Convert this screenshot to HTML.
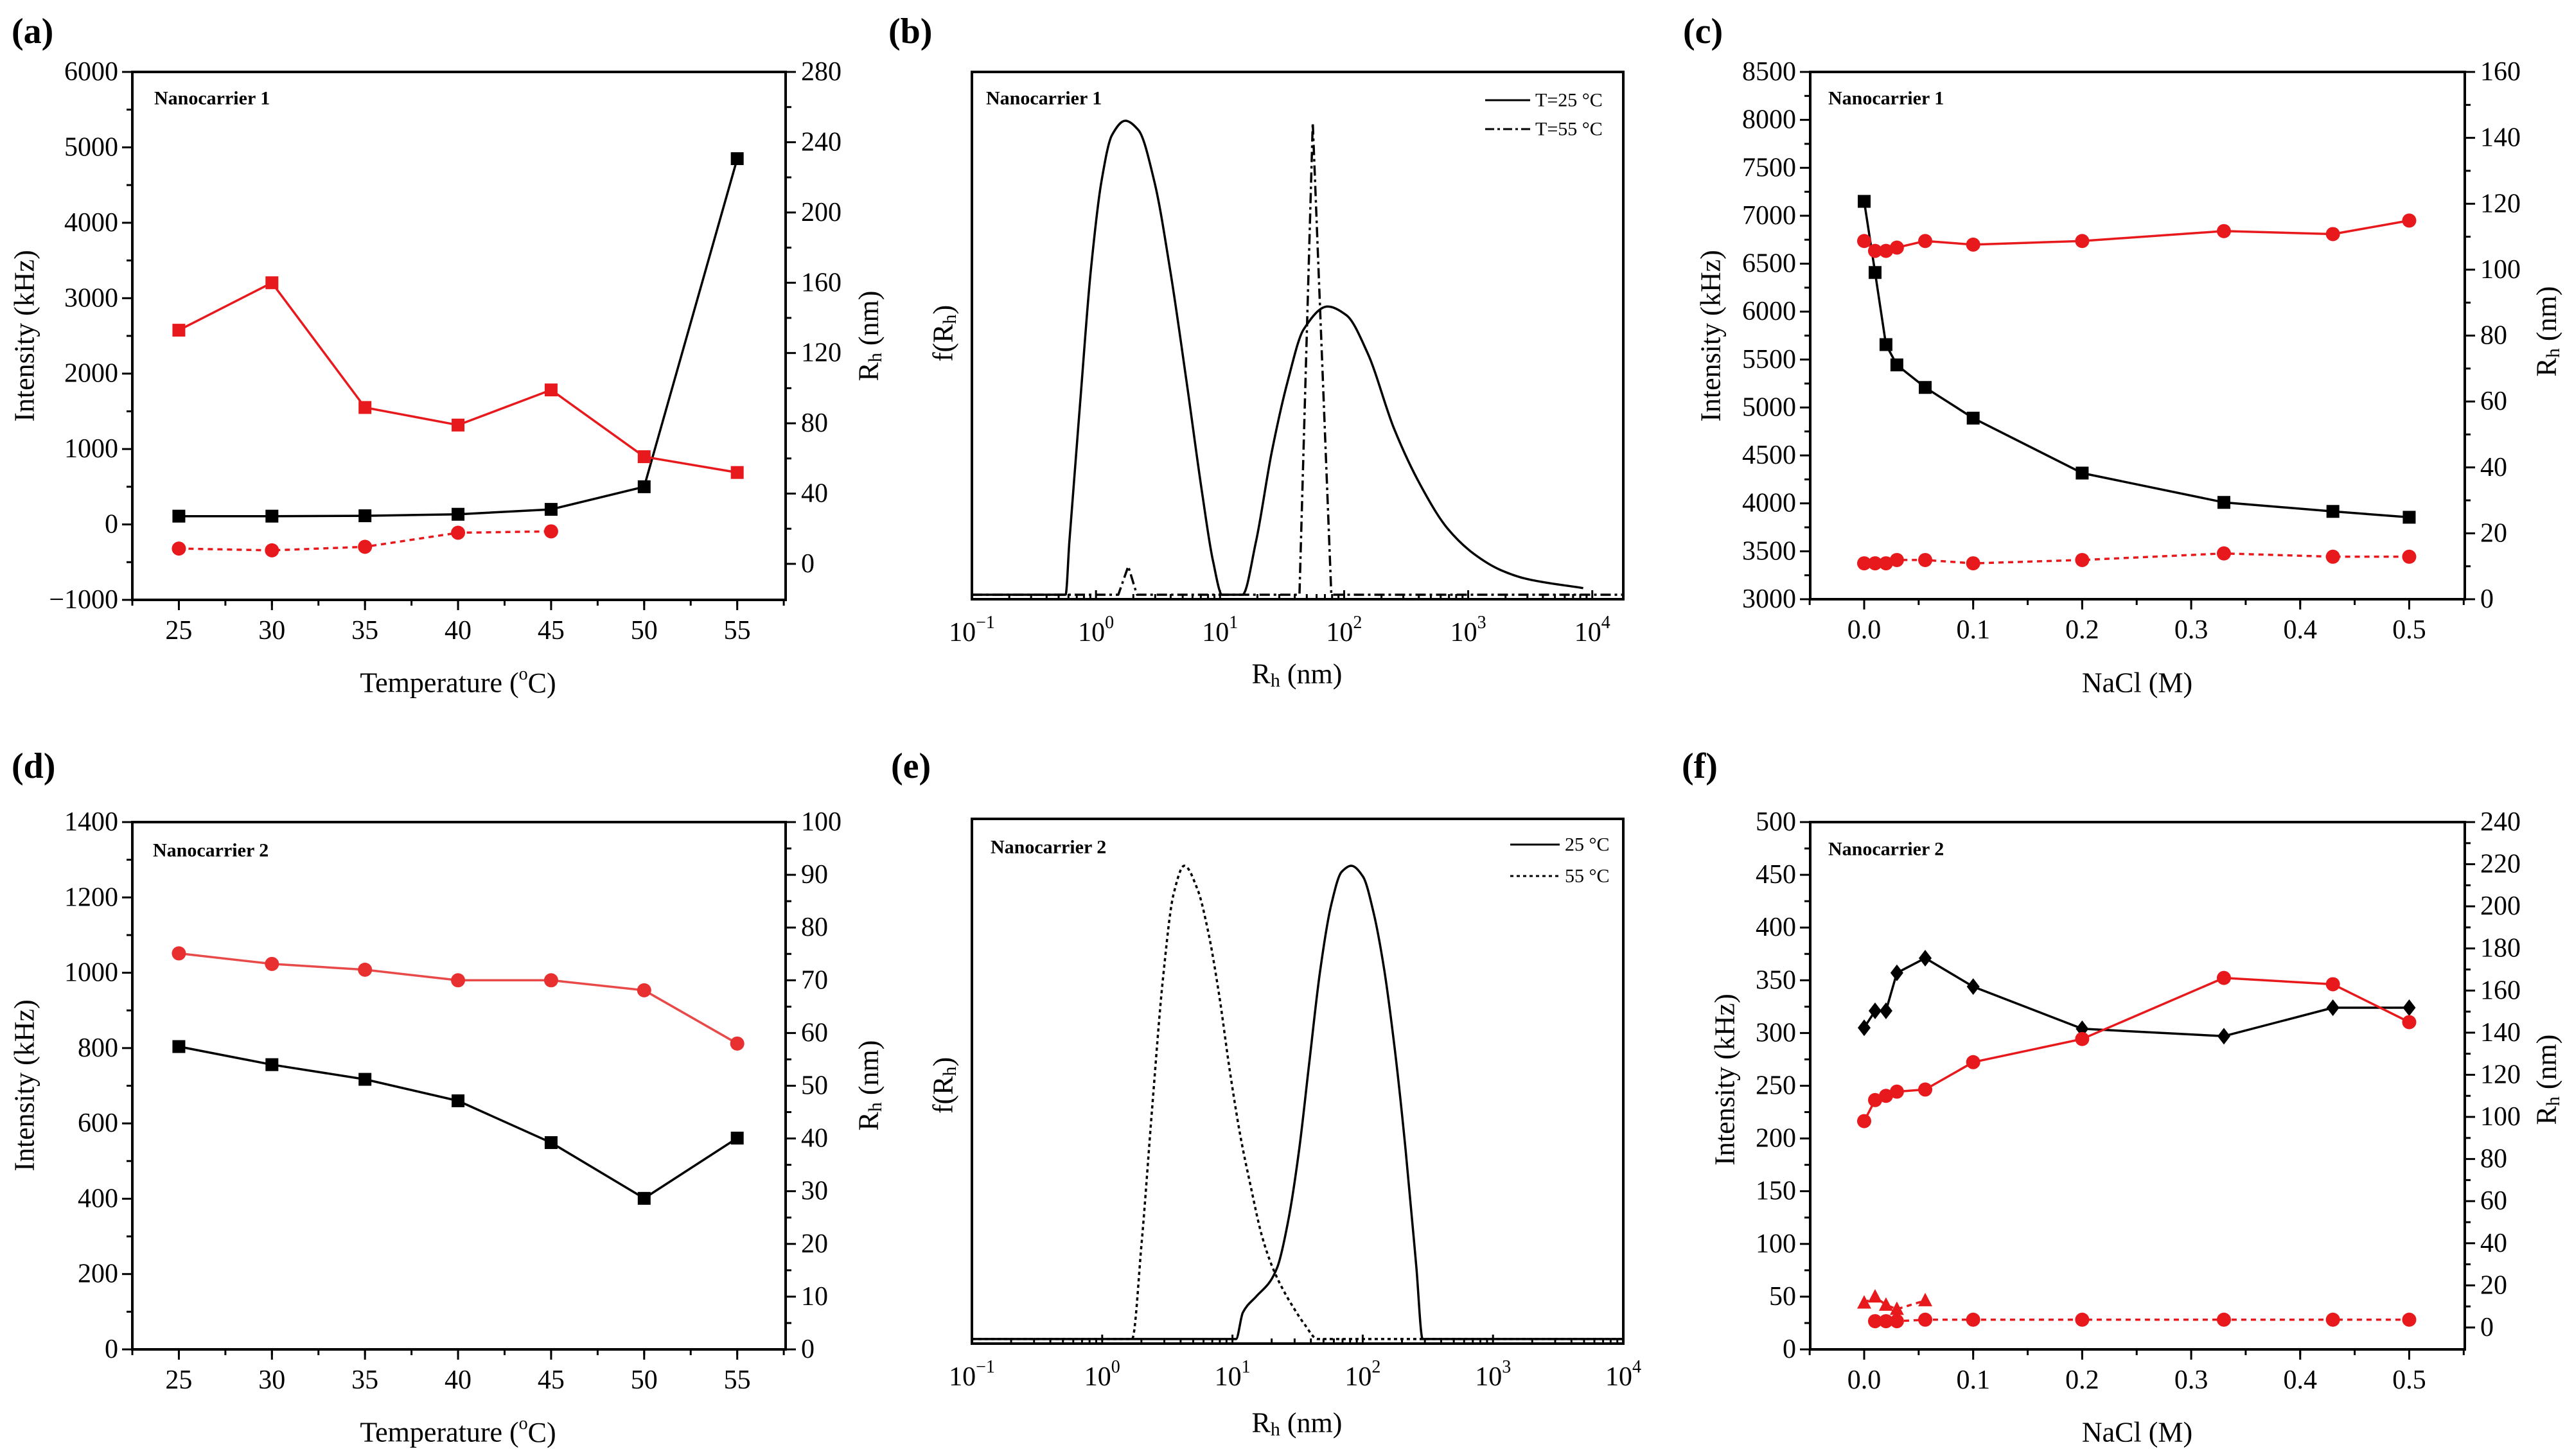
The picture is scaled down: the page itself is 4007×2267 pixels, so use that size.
<!DOCTYPE html>
<html><head><meta charset="utf-8"><style>
html,body{margin:0;padding:0;background:#fff}
svg{display:block}
svg text, svg tspan{font-family:"Liberation Serif","Times New Roman",serif}
</style></head><body>
<svg id="fig" width="4007" height="2267" viewBox="0 0 4007 2267" xmlns="http://www.w3.org/2000/svg" font-family="Liberation Serif, serif"></svg>
<script>
// ---------- DATA ----------
const tempX = [25,30,35,40,45,50,55];
const aIntensity = [110,110,115,135,200,500,4850];
const aRhLarge = [133,160,89,79,99,61,52];
const aRhSmallX = [25,30,35,40,45];
const aRhSmall = [8.7,7.7,9.7,17.7,18.5];

const bT25LogR = [-1,-0.245,-0.215,-0.129,-0.043,0.043,0.129,0.236,0.343,0.472,0.601,0.730,0.858,0.944,1.017,1.180,1.288,1.416,1.545,1.674,1.867,2.017,2.189,2.403,2.618,2.833,3.047,3.262,3.476,3.927];
const bT25F = [0,0,0.11,0.40,0.68,0.87,0.97,1.0,0.98,0.87,0.68,0.45,0.21,0.07,0,0,0.11,0.30,0.45,0.56,0.608,0.59,0.51,0.35,0.23,0.14,0.086,0.052,0.033,0.014];
const bT55LogR = [-1,0.18,0.26,0.33,1.64,1.747,1.897,4.25];
const bT55F = [0,0,0.06,0,0,0.996,0,0];

const saltX = [0,0.01,0.02,0.03,0.056,0.1,0.2,0.33,0.43,0.5];
const cIntensity = [7150,6408,5656,5444,5209,4889,4316,4010,3916,3855];
const cRhLarge = [108.7,105.7,105.7,106.7,108.7,107.6,108.7,111.7,110.8,114.9];
const cRhSmall = [10.9,10.9,10.9,11.9,11.9,10.9,11.9,13.9,12.9,12.9];

const dIntensity = [804,756,717,660,549,401,561];
const dRh = [75.1,73.1,72.0,70.0,70.0,68.1,58.0];

const e25LogR = [-1,1.027,1.080,1.183,1.285,1.346,1.428,1.510,1.592,1.674,1.756,1.838,1.912,2.002,2.084,2.165,2.247,2.329,2.411,2.460,4];
const e25F = [0,0,0.056,0.09,0.12,0.153,0.25,0.396,0.59,0.78,0.915,0.987,1,0.977,0.90,0.78,0.61,0.40,0.153,0,0];
const e55LogR = [-1,0.229,0.302,0.384,0.466,0.548,0.630,0.732,0.814,0.896,0.978,1.060,1.142,1.224,1.305,1.387,1.469,1.551,1.654,4];
const e55F = [0,0,0.20,0.49,0.76,0.94,1,0.95,0.86,0.73,0.57,0.43,0.32,0.22,0.153,0.105,0.066,0.032,0,0];

const fIntensity = [305,321,321,357,371,344,304,297,324,324];
const fRhLarge = [98,108,110,112,113,126,137,166,163,145];
const fTriX = [0,0.01,0.02,0.03,0.056];
const fRhTri = [11.7,14.6,10.7,8.7,12.8];
const fDotX = [0.01,0.02,0.03,0.056,0.1,0.2,0.33,0.43,0.5];
const fRhDot = [3.0,3.0,3.0,3.7,3.7,3.7,3.7,3.7,3.7];

const tempTicks = [25,30,35,40,45,50,55];
const saltTicks = [0,0.1,0.2,0.3,0.4,0.5];
const saltTickLabels = ['0.0','0.1','0.2','0.3','0.4','0.5'];
const logTicks = [-1,0,1,2,3,4];
const logTickExp = ['−1','0','1','2','3','4'];

// ---------- HELPERS ----------
const NS='http://www.w3.org/2000/svg';
const svg=document.getElementById('fig');
const RED='#e8191c';
const FONT='"Liberation Serif", serif';
function el(tag,attrs,parent){const e=document.createElementNS(NS,tag);for(const k in attrs)e.setAttribute(k,attrs[k]);(parent||svg).appendChild(e);return e;}
function lin(d0,d1,r0,r1){return v=>r0+(v-d0)/(d1-d0)*(r1-r0);}
function range(a,b,s){const r=[];for(let v=a;v<=b+1e-9;v+=s)r.push(+v.toFixed(6));return r;}

function text(g,x,y,str,opts){
  const t=el('text',{x:x,y:y,'font-size':opts.size||42,'font-family':FONT,'text-anchor':opts.anchor||'middle','dominant-baseline':'central',fill:'#000'},g);
  if(opts.bold)t.setAttribute('font-weight','bold');
  if(opts.rot)t.setAttribute('transform','rotate(-90 '+x+' '+y+')');
  t.textContent=str;
  return t;
}
function rhTitle(g,x,y,rot,name){
  const t=el('text',{x:x,y:y,'font-size':44,'font-family':FONT,'text-anchor':'middle','dominant-baseline':'central'},g);
  if(rot)t.setAttribute('transform','rotate(-90 '+x+' '+y+')');
  
  
  t.appendChild(document.createTextNode('R'));
  const s=el('tspan',{'font-size':30,dy:10},t);s.textContent='h';
  const r=el('tspan',{dy:-10},t);r.textContent=' (nm)';
  return t;
}
function fTitle(g,x,y){
  const t=el('text',{x:x,y:y,'font-size':44,'font-family':FONT,'text-anchor':'middle','dominant-baseline':'central',transform:'rotate(-90 '+x+' '+y+')'},g);
  
  
  t.appendChild(document.createTextNode('f(R'));
  const s=el('tspan',{'font-size':30,dy:10},t);s.textContent='h';
  const r=el('tspan',{dy:-10},t);r.textContent=')';
}
function tempTitle(g,x,y){
  const t=el('text',{x:x,y:y,'font-size':44,'font-family':FONT,'text-anchor':'middle','dominant-baseline':'central'},g);
  
  
  t.appendChild(document.createTextNode('Temperature ('));
  const s=el('tspan',{'font-size':28,dy:-14},t);s.textContent='o';
  const r=el('tspan',{dy:14},t);r.textContent='C)';
}

function frame(g,p){
  const r=el('rect',{x:p.L,y:p.T,width:p.R-p.L,height:p.B-p.T,fill:'none',stroke:'#000','stroke-width':4},g);
  
  
}
function ticksLeft(g,p,ys,major,minor,lo,hi){
  for(const v of range(lo,hi,minor)){
    const isMaj=Math.abs(v/major-Math.round(v/major))<1e-6;
    const y=ys(v);
    el('line',{x1:p.L,x2:p.L-(isMaj?16:9),y1:y,y2:y,stroke:'#000','stroke-width':3},g);
    if(isMaj){const t=text(g,p.L-22,y,String(v).replace('-','−'),{anchor:'end'});
      
      }
  }
}
function ticksRight(g,p,ys,major,minor,lo,hi){
  for(const v of range(lo,hi,minor)){
    const isMaj=Math.abs(v/major-Math.round(v/major))<1e-6;
    const y=ys(v);
    el('line',{x1:p.R,x2:p.R+(isMaj?16:9),y1:y,y2:y,stroke:'#000','stroke-width':3},g);
    if(isMaj){const t=text(g,p.R+24,y,String(v),{anchor:'start'});
      
      }
  }
}
function ticksBottom(g,p,xs,ticks,labels,minorStep,lo,hi){
  for(const v of range(lo,hi,minorStep)){
    const x=xs(v);
    el('line',{x1:x,x2:x,y1:p.B,y2:p.B+9,stroke:'#000','stroke-width':3},g);
  }
  ticks.forEach((v,i)=>{
    const x=xs(v);
    el('line',{x1:x,x2:x,y1:p.B,y2:p.B+16,stroke:'#000','stroke-width':3},g);
    const t=text(g,x,p.B+48,labels[i],{});
    
    
  });
}
function logBottom(g,p,xs,hiLog){
  for(let d=-1;d<=4;d++){
    for(let m=1;m<10;m++){
      const lv=d+Math.log10(m); if(lv>hiLog)break;
      const x=xs(lv);
      el('line',{x1:x,x2:x,y1:p.B,y2:p.B-(m===1?14:8),stroke:'#000','stroke-width':3},g);
    }
  }
  logTicks.forEach((v,i)=>{
    const x=xs(v);
    const t=el('text',{x:x,y:p.B+52,'font-size':42,'font-family':FONT,'text-anchor':'middle','dominant-baseline':'central'},g);
    
    
    t.appendChild(document.createTextNode('10'));
    const s=el('tspan',{'font-size':28,dy:-16},t);s.textContent=logTickExp[i];
  });
}
function polyline(g,xs,ys,X,Y,color,dash,name){
  const pts=X.map((x,i)=>xs(x).toFixed(1)+','+ys(Y[i]).toFixed(1)).join(' ');
  const l=el('polyline',{points:pts,fill:'none',stroke:color,'stroke-width':3.5,'stroke-linejoin':'round'},g);
  if(dash)l.setAttribute('stroke-dasharray',dash);
  
  
}
// monotone cubic (Fritsch-Carlson) - no overshoot
function smooth(g,xs,ys,X,Y,color,dash,name){
  const px=X.map(xs), py=Y.map(ys), n=px.length;
  const dx=[],m=[];
  for(let i=0;i<n-1;i++){dx.push(px[i+1]-px[i]);m.push((py[i+1]-py[i])/(px[i+1]-px[i]));}
  const t=new Array(n);
  t[0]=m[0];t[n-1]=m[n-2];
  for(let i=1;i<n-1;i++){
    if(m[i-1]*m[i]<=0)t[i]=0;
    else{const w1=2*dx[i]+dx[i-1],w2=dx[i]+2*dx[i-1];t[i]=(w1+w2)/(w1/m[i-1]+w2/m[i]);}
  }
  let d='M'+px[0].toFixed(1)+','+py[0].toFixed(1);
  for(let i=0;i<n-1;i++){
    const h=dx[i]/3;
    d+=' C'+(px[i]+h).toFixed(1)+','+(py[i]+t[i]*h).toFixed(1)+' '+(px[i+1]-h).toFixed(1)+','+(py[i+1]-t[i+1]*h).toFixed(1)+' '+px[i+1].toFixed(1)+','+py[i+1].toFixed(1);
  }
  const l=el('path',{d:d,fill:'none',stroke:color,'stroke-width':3.5,'stroke-linejoin':'round'},g);
  if(dash)l.setAttribute('stroke-dasharray',dash);
  
  
}
function markers(g,xs,ys,X,Y,color,shape,name){
  X.forEach((x,i)=>{
    const cx=xs(x),cy=ys(Y[i]);let m;
    if(shape==='sq')m=el('rect',{x:cx-10,y:cy-10,width:20,height:20,fill:color},g);
    else if(shape==='ci')m=el('circle',{cx:cx,cy:cy,r:11,fill:color},g);
    else if(shape==='di')m=el('polygon',{points:`${cx},${cy-13} ${cx+10},${cy} ${cx},${cy+13} ${cx-10},${cy}`,fill:color},g);
    else m=el('polygon',{points:`${cx},${cy-12} ${cx+11},${cy+9} ${cx-11},${cy+9}`,fill:color},g);
    
    
  });
}
function group(name){const g=el('g',{});return g;}
function panelLabel(g,x,y,s){const t=text(g,x,y,s,{size:56,bold:true,anchor:'start'});}
function ncTitle(g,x,y,s){const t=text(g,x,y,s,{size:30,bold:true,anchor:'start'});}
function intensityTitle(g,x,y){const t=text(g,x,y,'Intensity (kHz)',{size:44,rot:true});}
function naclTitle(g,x,y){const t=text(g,x,y,'NaCl (M)',{size:44});}

// ---------- PANEL A ----------
(function(){
  const g=group('panel-a');
  const p={L:206,R:1223,T:112,B:934};
  const xs=lin(22.5,57.6,p.L,p.R), yl=lin(-1000,6000,p.B,p.T), yr=lin(-20.5,280,p.B,p.T);
  frame(g,p);
  ticksLeft(g,p,yl,1000,500,-1000,6000);
  ticksRight(g,p,yr,40,20,0,280);
  ticksBottom(g,p,xs,tempTicks,tempTicks.map(String),2.5,22.5,57.5);
  polyline(g,xs,yl,tempX,aIntensity,'#000',null,'intensity-line');
  markers(g,xs,yl,tempX,aIntensity,'#000','sq','intensity-point');
  polyline(g,xs,yr,tempX,aRhLarge,RED,null,'rh-large-line');
  markers(g,xs,yr,tempX,aRhLarge,RED,'sq','rh-large-point');
  polyline(g,xs,yr,aRhSmallX,aRhSmall,RED,'8 7','rh-small-line');
  markers(g,xs,yr,aRhSmallX,aRhSmall,RED,'ci','rh-small-point');
  panelLabel(g,18,49,'(a)');
  ncTitle(g,240,153,'Nanocarrier 1');
  intensityTitle(g,38,523);
  rhTitle(g,1352,523,true,'right-axis-title');
  tempTitle(g,713,1063);
})();

// ---------- PANEL B ----------
(function(){
  const g=group('panel-b');
  const p={L:1513,R:2527,T:112,B:933};
  const xs=lin(-1,4.25,p.L,p.R), ys=lin(-0.0095,1.103,p.B,p.T);
  frame(g,p);
  logBottom(g,p,xs,4.25);
  smooth(g,xs,ys,bT25LogR,bT25F,'#000',null,'distribution-25c');
  polyline(g,xs,ys,bT55LogR,bT55F,'#000','16 6 4 6','distribution-55c');
  panelLabel(g,1383,49,'(b)');
  ncTitle(g,1535,153,'Nanocarrier 1');
  fTitle(g,1468,519);
  rhTitle(g,2019,1049,false,'x-axis-title');
  const l1=el('line',{x1:2312,x2:2382,y1:156,y2:156,stroke:'#000','stroke-width':3},g);
  
  const t1=text(g,2390,156,'T=25 °C',{size:30,anchor:'start'});
  const l2=el('line',{x1:2312,x2:2382,y1:201,y2:201,stroke:'#000','stroke-width':3,'stroke-dasharray':'14 5 4 5'},g);
  
  const t2=text(g,2390,201,'T=55 °C',{size:30,anchor:'start'});
})();

// ---------- PANEL C ----------
(function(){
  const g=group('panel-c');
  const p={L:2818,R:3837,T:112,B:933};
  const xs=lin(-0.0495,0.551,p.L,p.R), yl=lin(3000,8500,p.B,p.T), yr=lin(0,160,p.B,p.T);
  frame(g,p);
  ticksLeft(g,p,yl,500,250,3000,8500);
  ticksRight(g,p,yr,20,10,0,160);
  ticksBottom(g,p,xs,saltTicks,saltTickLabels,0.05,-0.05,0.55);
  polyline(g,xs,yl,saltX,cIntensity,'#000',null,'intensity-line');
  markers(g,xs,yl,saltX,cIntensity,'#000','sq','intensity-point');
  polyline(g,xs,yr,saltX,cRhLarge,RED,null,'rh-large-line');
  markers(g,xs,yr,saltX,cRhLarge,RED,'ci','rh-large-point');
  polyline(g,xs,yr,saltX,cRhSmall,RED,'8 7','rh-small-line');
  markers(g,xs,yr,saltX,cRhSmall,RED,'ci','rh-small-point');
  panelLabel(g,2620,49,'(c)');
  ncTitle(g,2846,153,'Nanocarrier 1');
  intensityTitle(g,2663,523);
  rhTitle(g,3964,516,true,'right-axis-title');
  naclTitle(g,3327,1063);
})();

// ---------- PANEL D ----------
(function(){
  const g=group('panel-d');
  const p={L:206,R:1223,T:1280,B:2101};
  const xs=lin(22.5,57.6,p.L,p.R), yl=lin(0,1400,p.B,p.T), yr=lin(0,100,p.B,p.T);
  frame(g,p);
  ticksLeft(g,p,yl,200,100,0,1400);
  ticksRight(g,p,yr,10,5,0,100);
  ticksBottom(g,p,xs,tempTicks,tempTicks.map(String),2.5,22.5,57.5);
  polyline(g,xs,yl,tempX,dIntensity,'#000',null,'intensity-line');
  markers(g,xs,yl,tempX,dIntensity,'#000','sq','intensity-point');
  polyline(g,xs,yr,tempX,dRh,'#e84a4a',null,'rh-line');
  markers(g,xs,yr,tempX,dRh,'#e83030','ci','rh-point');
  panelLabel(g,18,1193,'(d)');
  ncTitle(g,238,1324,'Nanocarrier 2');
  intensityTitle(g,38,1690);
  rhTitle(g,1352,1690,true,'right-axis-title');
  tempTitle(g,713,2230);
})();

// ---------- PANEL E ----------
(function(){
  const g=group('panel-e');
  const p={L:1513,R:2527,T:1275,B:2092};
  const xs=lin(-1,4,p.L,p.R), ys=lin(-0.0097,1.099,p.B,p.T);
  frame(g,p);
  logBottom(g,p,xs,4);
  smooth(g,xs,ys,e25LogR,e25F,'#000',null,'distribution-25c');
  smooth(g,xs,ys,e55LogR,e55F,'#000','5 5','distribution-55c');
  panelLabel(g,1387,1193,'(e)');
  ncTitle(g,1542,1319,'Nanocarrier 2');
  fTitle(g,1468,1690);
  rhTitle(g,2019,2215,false,'x-axis-title');
  const l1=el('line',{x1:2351,x2:2428,y1:1315,y2:1315,stroke:'#000','stroke-width':3},g);
  
  const t1=text(g,2436,1315,'25 °C',{size:30,anchor:'start'});
  const l2=el('line',{x1:2351,x2:2428,y1:1364,y2:1364,stroke:'#000','stroke-width':3,'stroke-dasharray':'5 5'},g);
  
  const t2=text(g,2436,1364,'55 °C',{size:30,anchor:'start'});
})();

// ---------- PANEL F ----------
(function(){
  const g=group('panel-f');
  const p={L:2818,R:3837,T:1280,B:2101};
  const xs=lin(-0.0495,0.551,p.L,p.R), yl=lin(0,500,p.B,p.T), yr=lin(-10.4,240,p.B,p.T);
  frame(g,p);
  ticksLeft(g,p,yl,50,25,0,500);
  ticksRight(g,p,yr,20,10,0,240);
  ticksBottom(g,p,xs,saltTicks,saltTickLabels,0.05,-0.05,0.55);
  polyline(g,xs,yl,saltX,fIntensity,'#000',null,'intensity-line');
  markers(g,xs,yl,saltX,fIntensity,'#000','di','intensity-point');
  polyline(g,xs,yr,saltX,fRhLarge,RED,null,'rh-large-line');
  markers(g,xs,yr,saltX,fRhLarge,RED,'ci','rh-large-point');
  polyline(g,xs,yr,fTriX,fRhTri,RED,'8 7','rh-triangle-line');
  markers(g,xs,yr,fTriX,fRhTri,RED,'tr','rh-triangle-point');
  polyline(g,xs,yr,fDotX,fRhDot,RED,'8 7','rh-small-line');
  markers(g,xs,yr,fDotX,fRhDot,RED,'ci','rh-small-point');
  panelLabel(g,2618,1193,'(f)');
  ncTitle(g,2846,1322,'Nanocarrier 2');
  intensityTitle(g,2685,1681);
  rhTitle(g,3964,1681,true,'right-axis-title');
  naclTitle(g,3327,2230);
})();
</script>
</body></html>
